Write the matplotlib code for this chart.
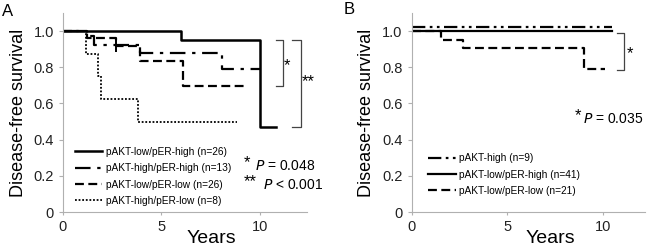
import matplotlib
matplotlib.use("Agg")
import matplotlib.pyplot as plt

plt.rcParams['font.family'] = ['Liberation Sans', 'DejaVu Sans']

# ---- Panel A data (step KM curves) ----
a_labels = ["pAKT-low/pER-high (n=26)", "pAKT-high/pER-high (n=13)",
            "pAKT-low/pER-low (n=26)", "pAKT-high/pER-low (n=8)"]
a1_t = [0, 6.0, 10.0, 10.8]
a1_s = [1.0, 0.95, 0.47, 0.47]
a2_t = [0, 1.2, 1.6, 3.9, 8.1, 10.0]
a2_s = [1.0, 0.975, 0.925, 0.88, 0.79, 0.79]
a3_t = [0, 1.2, 2.7, 3.9, 6.1, 9.25]
a3_s = [1.0, 0.96, 0.92, 0.835, 0.695, 0.695]
a4_t = [0, 1.15, 1.8, 1.95, 3.8, 8.85]
a4_s = [1.0, 0.875, 0.75, 0.625, 0.5, 0.5]
a_cens_t = [2.7]
a_cens_s = [0.92]

# ---- Panel B data ----
b_labels = ["pAKT-high (n=9)", "pAKT-low/pER-high (n=41)", "pAKT-low/pER-low (n=21)"]
b1_t = [0, 10.5]
b1_s = [1.025, 1.025]
b2_t = [0, 10.5]
b2_s = [1.0, 1.0]
b3_t = [0, 1.55, 2.7, 9.0, 10.1]
b3_s = [1.0, 0.953, 0.905, 0.79, 0.79]

yticks = [0, 0.2, 0.4, 0.6, 0.8, 1.0]
yticklabels = ["0", "0.2", "0.4", "0.6", "0.8", "1.0"]
xticks = [0, 5, 10]

fig = plt.figure(figsize=(6.5, 2.48), dpi=100)
axA = fig.add_axes([63/650, 1-212/248, (307-63)/650, (212-13)/248])
axB = fig.add_axes([411.7/650, 1-212/248, (645-411.7)/650, (212-13)/248])

spine_c = "#b0b0b0"

def style(ax, xmax, xlab_x):
    ax.set_xlim(0, xmax)
    ax.set_ylim(0, 1.1)
    for s in ["top", "right"]:
        ax.spines[s].set_visible(False)
    for s in ["left", "bottom"]:
        ax.spines[s].set_color(spine_c)
        ax.spines[s].set_linewidth(0.8)
    ax.set_yticks(yticks)
    ax.set_yticklabels(yticklabels)
    ax.set_xticks(xticks)
    ax.tick_params(axis="both", colors=spine_c, labelcolor="#222222",
                   labelsize=10.5, length=3, width=0.8)
    ax.tick_params(axis="x", length=2)
    ax.set_ylabel("Disease-free survival", fontsize=13, labelpad=5)
    ax.set_xlabel("Years", fontsize=14, va="center")
    ax.xaxis.set_label_coords(xlab_x, -0.135)

style(axA, 12.4, 0.607)
style(axB, 12.2, 0.593)

k = "black"
la1, = axA.step(a1_t, a1_s, where="post", color=k, lw=1.8, ls="-")
la2, = axA.step(a2_t, a2_s, where="post", color=k, lw=1.6, ls=(0, (7, 3, 1.5, 3)))
la3, = axA.step(a3_t, a3_s, where="post", color=k, lw=1.6, ls=(0, (4, 2)))
la4, = axA.step(a4_t, a4_s, where="post", color=k, lw=1.3, ls=(0, (1, 1)))
axA.plot(a_cens_t, a_cens_s, marker="|", ms=8, mew=1.4, color=k, ls="none")

# brackets
def bracket(ax, x0, x1, y0, y1):
    ax.plot([x0, x1, x1, x0], [y0, y0, y1, y1], color="#444444", lw=0.9)

bracket(axA, 10.85, 11.2, a1_s[1], a3_s[-1])
bracket(axA, 11.65, 12.1, a1_s[1], a1_s[-1])
axA.text(11.2, 0.81, "*", fontsize=12, ha="left", va="center")
axA.text(12.15, 0.72, "**", fontsize=12, ha="left", va="center")

axA.text(9.2, 0.275, "*", fontsize=12, ha="left", va="center")
axA.text(9.75, 0.255, "$\\it{P}$ = 0.048", fontsize=10, ha="left", va="center")
axA.text(9.2, 0.17, "**", fontsize=12, ha="left", va="center")
axA.text(10.15, 0.15, "$\\it{P}$ < 0.001", fontsize=10, ha="left", va="center")

axA.legend([la1, la2, la3, la4], a_labels, loc="lower left",
           bbox_to_anchor=(0.02, -0.005), frameon=False, fontsize=7.3,
           handlelength=2.7, handletextpad=0.35, labelspacing=0.62,
           borderpad=0.2)

lb1, = axB.step(b1_t, b1_s, where="post", color=k, lw=1.6, ls=(0, (6, 2, 1.2, 2, 1.2, 2)))
lb2, = axB.step(b2_t, b2_s, where="post", color=k, lw=1.6, ls="-")
lb3, = axB.step(b3_t, b3_s, where="post", color=k, lw=1.6, ls=(0, (4, 2)))

bracket(axB, 10.73, 11.08, 0.99, 0.786)
axB.text(11.25, 0.875, "*", fontsize=12, ha="left", va="center")
axB.text(8.5, 0.535, "*", fontsize=12, ha="left", va="center")
axB.text(8.95, 0.515, "$\\it{P}$ = 0.035", fontsize=10, ha="left", va="center")

axB.legend([lb1, lb2, lb3], b_labels, loc="lower left",
           bbox_to_anchor=(0.04, 0.045), frameon=False, fontsize=7.3,
           handlelength=2.7, handletextpad=0.35, labelspacing=0.62,
           borderpad=0.2)

fig.text(2/650, 1-12/248, "A", fontsize=12, ha="left", va="center")
fig.text(344/650, 1-10/248, "B", fontsize=12, ha="left", va="center")

fig.savefig("out.png", dpi=100)
